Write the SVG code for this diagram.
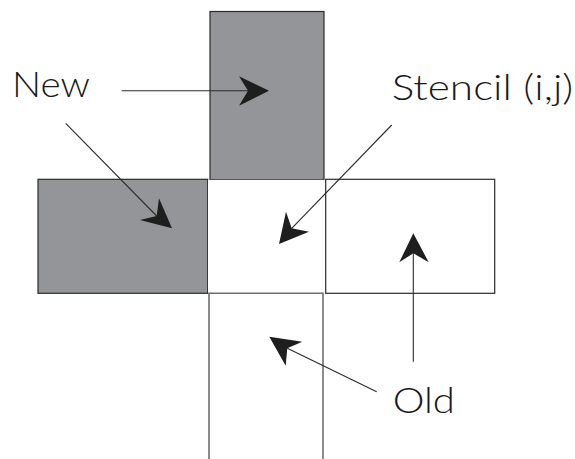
<svg xmlns="http://www.w3.org/2000/svg" width="575" height="459" viewBox="0 0 575 459">
  <style>
    .cell { stroke: #2b2b2b; stroke-width: 1.2; }
    .new { fill: #939598; }
    .old { fill: #ffffff; }
    .open { fill: none; stroke: #6e6e6e; stroke-width: 1.6; }
    .lead { stroke: #2b2b2b; stroke-width: 1.1; fill: none; }
    .head { fill: #1e1e1e; stroke: none; }
    .label { font-family: Lato, "Liberation Sans", Arial, sans-serif; font-weight: 300; font-size: 35px; fill: #1a1a1a; }
  </style>

  <!-- stencil cells -->
  <g id="cell-north">
    <rect class="cell new" x="210" y="11.5" width="114" height="168.5"/>
  </g>
  <g id="cell-west">
    <rect class="cell new" x="38" y="179.3" width="169.7" height="114"/>
  </g>
  <g id="cell-center">
    <rect x="208" y="180" width="117" height="113" fill="#ffffff"/>
  </g>
  <g id="cell-east">
    <rect class="cell old" x="325.7" y="179.3" width="169" height="114"/>
  </g>
  <g id="cell-south">
    <path class="open" d="M209 459 V293.3 H323 V459"/>
  </g>

  <!-- labels -->
  <g id="label-new">
    <text class="label" x="12" y="96.7" textLength="78" lengthAdjust="spacingAndGlyphs">New</text>
  </g>
  <g id="label-stencil">
    <text class="label" x="391.7" y="100" textLength="181.6" lengthAdjust="spacingAndGlyphs">Stencil (i,j)</text>
  </g>
  <g id="label-old">
    <text class="label" x="392.7" y="413.3" textLength="62.3" lengthAdjust="spacingAndGlyphs">Old</text>
  </g>

  <!-- leader arrows -->
  <g id="connectors">
    <!-- New -> north cell -->
    <line class="lead" x1="121.7" y1="90.7" x2="248" y2="90.7"/>
    <polygon class="head" points="269,90.7 239,76.3 248,90.7 239,105.7"/>

    <!-- New -> west cell -->
    <line class="lead" x1="65.7" y1="123.3" x2="156.7" y2="216"/>
    <polygon class="head" points="172,228.3 159,198.3 156.7,216 140,220"/>

    <!-- Stencil (i,j) -> center cell -->
    <line class="lead" x1="391.7" y1="125" x2="291.7" y2="228.3"/>
    <polygon class="head" points="279,244 286,211.7 291.7,228.3 309,231.7"/>

    <!-- Old -> south cell -->
    <line class="lead" x1="376.7" y1="391.7" x2="287.3" y2="348.3"/>
    <polygon class="head" points="269.3,336.7 302.3,341.7 287.3,348.3 285.7,365.7"/>

    <!-- Old -> east cell -->
    <line class="lead" x1="413.3" y1="361.7" x2="413.3" y2="253.3"/>
    <polygon class="head" points="413.3,233.3 428.7,262.3 413.3,253.3 399.3,262.3"/>
  </g>
</svg>
